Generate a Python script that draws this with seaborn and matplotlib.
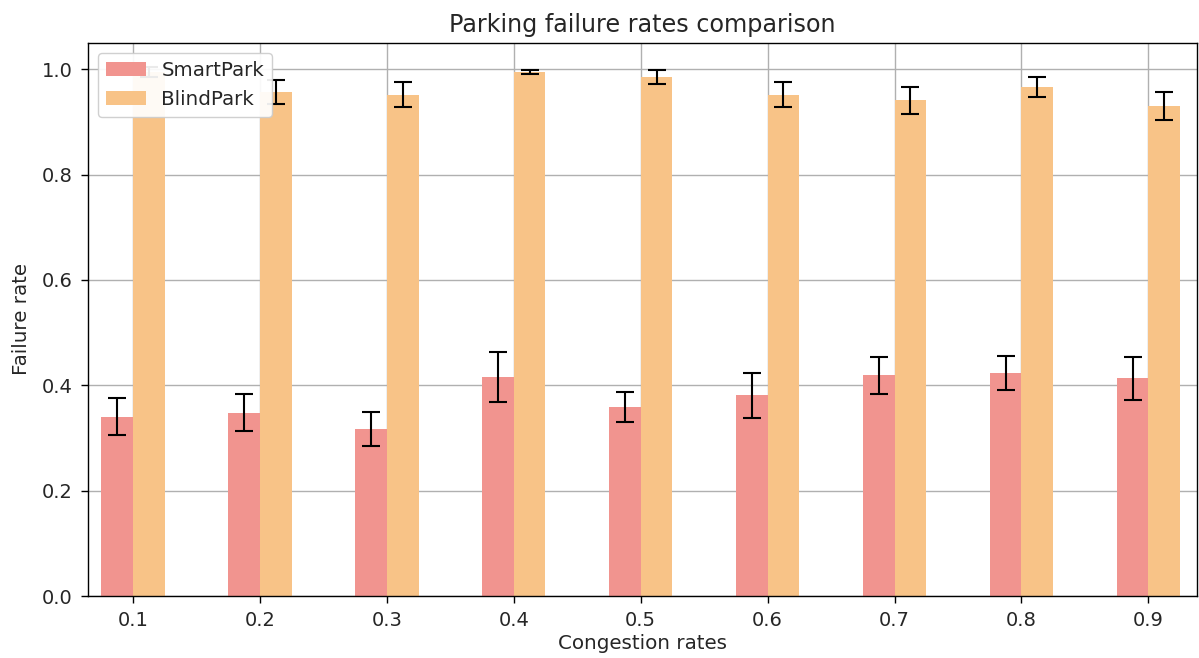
import numpy as np
import pandas as pd
import matplotlib
matplotlib.use('Agg')
import matplotlib.pyplot as plt
import seaborn as sns

# values
congestion = [0.1, 0.2, 0.3, 0.4, 0.5, 0.6, 0.7, 0.8, 0.9]
smart_rate = [0.340, 0.348, 0.317, 0.416, 0.359, 0.381, 0.419, 0.424, 0.413]
smart_err = [0.035, 0.035, 0.033, 0.048, 0.029, 0.043, 0.035, 0.032, 0.040]
blind_rate = [0.995, 0.957, 0.952, 0.995, 0.985, 0.952, 0.941, 0.966, 0.930]
blind_err = [0.010, 0.023, 0.024, 0.003, 0.013, 0.024, 0.025, 0.019, 0.027]

df = pd.DataFrame({
    'congestion': congestion * 2,
    'rate': smart_rate + blind_rate,
    'method': ['SmartPark'] * 9 + ['BlindPark'] * 9,
})

sns.set_style('white')
plt.rcParams['font.family'] = ['DejaVu Sans']

fig = plt.figure(figsize=(11.99, 6.58), dpi=100)
ax = fig.add_axes([0.0734, 0.0942, 0.9246, 0.8405])

sns.barplot(data=df, x='congestion', y='rate', hue='method', native_scale=True,
            width=0.5, palette=['#F1948F', '#F8C387'], errorbar=None,
            saturation=1, linewidth=0, ax=ax, zorder=2)

# error bars on the bar centres
half = 0.0125
ax.errorbar(np.array(congestion) - half, smart_rate, yerr=smart_err, fmt='none',
            ecolor='black', elinewidth=1.5, capsize=6.5, capthick=1.5, zorder=3)
ax.errorbar(np.array(congestion) + half, blind_rate, yerr=blind_err, fmt='none',
            ecolor='black', elinewidth=1.5, capsize=6.5, capthick=1.5, zorder=3)

ax.set_xlim(0.0646, 0.938)
ax.set_ylim(0, 1.05)
ax.set_xticks(congestion)
ax.set_xticklabels([str(c) for c in congestion])
ax.set_yticks([0.0, 0.2, 0.4, 0.6, 0.8, 1.0])
ax.set_yticklabels(['0.0', '0.2', '0.4', '0.6', '0.8', '1.0'])
ax.grid(True, color='#b0b0b0', linewidth=1)
ax.set_axisbelow(True)
for s in ax.spines.values():
    s.set_visible(True)
    s.set_color('black')
    s.set_linewidth(1)
ax.tick_params(axis='both', which='both', direction='out', length=5, width=1,
               labelsize=14, bottom=True, left=True, colors='black',
               labelcolor='#262626')
ax.tick_params(axis='y', pad=6)
ax.tick_params(axis='x', pad=5.5)

ax.set_title('Parking failure rates comparison', fontsize=17.2, color='#262626', pad=8)
ax.set_xlabel('Congestion rates', fontsize=14.3, color='#262626', labelpad=3)
ax.set_ylabel('Failure rate', fontsize=14.3, color='#262626', labelpad=8)
leg = ax.legend(loc='upper left', title=None, fontsize=14.3, framealpha=0.92)
leg.set_zorder(10)

fig.savefig('out.png', dpi=100)
